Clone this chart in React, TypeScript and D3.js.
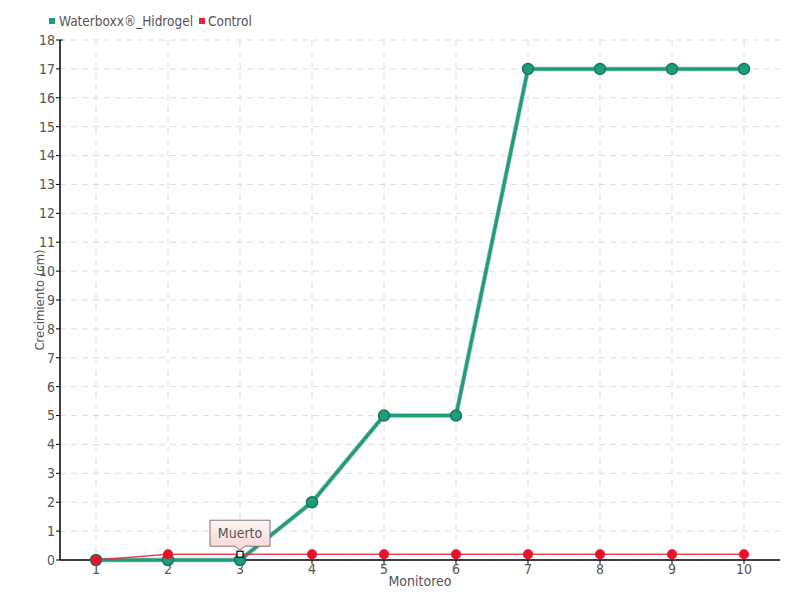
import React from "react";
import * as d3 from "d3";

const categories = ["1", "2", "3", "4", "5", "6", "7", "8", "9", "10"];
const waterboxx = [0, 0, 0, 2, 5, 5, 17, 17, 17, 17];
const control = [0, 0.2, 0.2, 0.2, 0.2, 0.2, 0.2, 0.2, 0.2, 0.2];
const yTicks = d3.range(0, 19);
const seriesNames = ["Waterboxx®_Hidrogel", "Control"];
const annotationIndex = 2;
const annotationText = "Muerto";

const W = 800, H = 600;
const M = { left: 60, right: 20, top: 40, bottom: 40 };
const FONT = "'DejaVu Sans Condensed', 'Liberation Sans Narrow', sans-serif";

export default function App() {
  const x = d3.scaleBand().domain(categories).range([M.left, W - M.right]);
  const y = d3.scaleLinear().domain([0, 18]).range([H - M.bottom, M.top]);
  const cx = (i: number) => (x(categories[i]) as number) + x.bandwidth() / 2;
  const line = d3.line<number>().x((_, i) => cx(i)).y((d) => y(d));
  const green = "#1f9c7c";
  const greenDark = "#14785c";
  const red = "#f0203c";
  const ax = annotationIndex;
  const axX = cx(ax);
  const axY = y(control[ax]);
  const txt = { fontFamily: FONT };
  return (
    <svg width={W} height={H} style={{ position: "absolute", left: 0, top: 0 }}>
      <defs>
        <linearGradient id="tip" x1="0" y1="0" x2="0" y2="1">
          <stop offset="0%" stopColor="#fff4f4" />
          <stop offset="100%" stopColor="#fcd6d6" />
        </linearGradient>
      </defs>
      <rect width={W} height={H} fill="#fff" />
      {yTicks.map((t) => (
        <line key={"h" + t} x1={M.left} x2={W - M.right} y1={y(t)} y2={y(t)} stroke="#ddd" strokeDasharray="6,5" />
      ))}
      {categories.map((c, i) => (
        <line key={"v" + c} x1={cx(i)} x2={cx(i)} y1={M.top} y2={H - M.bottom} stroke="#ddd" strokeDasharray="6,5" />
      ))}
      <line x1={M.left} x2={M.left} y1={M.top} y2={H - M.bottom} stroke="#000" strokeWidth={1.5} />
      <line x1={M.left} x2={W - M.right} y1={H - M.bottom} y2={H - M.bottom} stroke="#000" strokeWidth={1.5} />
      {yTicks.map((t) => (
        <g key={"yt" + t}>
          <line x1={M.left - 4} x2={M.left} y1={y(t)} y2={y(t)} stroke="#000" />
          <text x={M.left - 5} y={y(t)} dy="0.35em" textAnchor="end" fontSize={14} fill="#555" style={txt}>{t}</text>
        </g>
      ))}
      <line x1={M.left} x2={M.left + 3} y1={y(18)} y2={y(18)} stroke="#000" />
      {categories.map((c, i) => (
        <g key={"xt" + c}>
          <line x1={cx(i)} x2={cx(i)} y1={H - M.bottom} y2={H - M.bottom + 4} stroke="#000" />
          <text x={cx(i)} y={H - M.bottom + 14} textAnchor="middle" fontSize={14} fill="#555" style={txt}>{c}</text>
        </g>
      ))}
      <text x={(M.left + W - M.right) / 2} y={H - 14} textAnchor="middle" fontSize={14} fill="#555" style={txt}>Monitoreo</text>
      <text transform={`translate(44,${(M.top + H - M.bottom) / 2}) rotate(-90)`} textAnchor="middle" fontSize={13} fill="#555" style={txt}>Crecimiento (cm)</text>
      <path d={line(waterboxx) as string} fill="none" stroke={greenDark} strokeWidth={4.5} opacity={0.5} strokeLinejoin="round" />
      <path d={line(waterboxx) as string} fill="none" stroke={green} strokeWidth={3} strokeLinejoin="round" />
      {waterboxx.map((v, i) => (
        <circle key={"g" + i} cx={cx(i)} cy={y(v)} r={5.5} fill={green} stroke={greenDark} strokeWidth={1.5} />
      ))}
      <path d={line(control) as string} fill="none" stroke={red} strokeWidth={1.5} opacity={0.85} />
      {control.map((v, i) =>
        i === ax ? (
          <rect key={"r" + i} x={cx(i) - 3} y={y(v) - 3} width={6} height={6} fill="#fff" stroke="#000" strokeWidth={1.2} />
        ) : (
          <circle key={"r" + i} cx={cx(i)} cy={y(v)} r={5} fill="#e8102c" />
        )
      )}
      <g>
        <path
          d={`M${axX - 30},${axY - 34} H${axX + 30} V${axY - 8} H${axX + 5} L${axX},${axY - 4} L${axX - 5},${axY - 8} H${axX - 30} Z`}
          fill="url(#tip)" stroke="#777" strokeWidth={1}
        />
        <text x={axX} y={axY - 16} textAnchor="middle" fontSize={14} fill="#555" style={txt}>{annotationText}</text>
      </g>
      <rect x={49} y={18} width={6} height={6} fill={green} />
      <text x={59} y={26} fontSize={13.5} fill="#555" style={txt}>{seriesNames[0]}</text>
      <rect x={199} y={18} width={6} height={6} fill={red} />
      <text x={208} y={26} fontSize={13.5} fill="#555" style={txt}>{seriesNames[1]}</text>
    </svg>
  );
}
